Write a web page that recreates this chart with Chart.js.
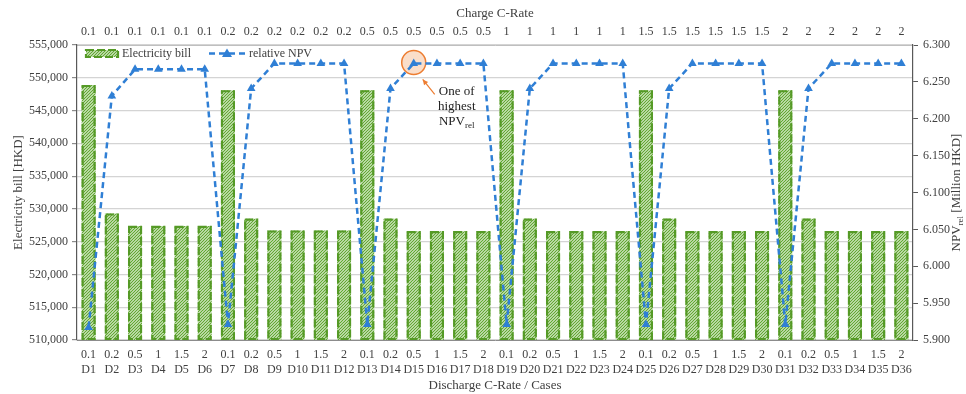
<!DOCTYPE html>
<html>
<head>
<meta charset="utf-8">
<script src="https://cdn.jsdelivr.net/npm/chart.js@4.4.1/dist/chart.umd.min.js"></script>
<style>
  html, body { margin: 0; padding: 0; background: #fff; }
  #wrap { width: 966px; height: 394px; }
</style>
</head>
<body>
<div id="wrap"><canvas id="chart" width="966" height="394"></canvas></div>
<script>
const dischargeRates = ['0.1', '0.2', '0.5', '1', '1.5', '2', '0.1', '0.2', '0.5', '1', '1.5', '2',
  '0.1', '0.2', '0.5', '1', '1.5', '2', '0.1', '0.2', '0.5', '1', '1.5', '2',
  '0.1', '0.2', '0.5', '1', '1.5', '2', '0.1', '0.2', '0.5', '1', '1.5', '2'];
const cases = ['D1', 'D2', 'D3', 'D4', 'D5', 'D6', 'D7', 'D8', 'D9', 'D10', 'D11', 'D12',
  'D13', 'D14', 'D15', 'D16', 'D17', 'D18', 'D19', 'D20', 'D21', 'D22', 'D23', 'D24',
  'D25', 'D26', 'D27', 'D28', 'D29', 'D30', 'D31', 'D32', 'D33', 'D34', 'D35', 'D36'];
const chargeRates = ['0.1', '0.1', '0.1', '0.1', '0.1', '0.1', '0.2', '0.2', '0.2', '0.2', '0.2', '0.2',
  '0.5', '0.5', '0.5', '0.5', '0.5', '0.5', '1', '1', '1', '1', '1', '1',
  '1.5', '1.5', '1.5', '1.5', '1.5', '1.5', '2', '2', '2', '2', '2', '2'];

const electricityBill = [
  548900, 529300, 527400, 527400, 527400, 527400,
  548100, 528500, 526700, 526700, 526700, 526700,
  548100, 528500, 526600, 526600, 526600, 526600,
  548100, 528500, 526600, 526600, 526600, 526600,
  548100, 528500, 526600, 526600, 526600, 526600,
  548100, 528500, 526600, 526600, 526600, 526600
];
const relativeNPV = [
  5.917, 6.231, 6.267, 6.267, 6.267, 6.267,
  5.921, 6.241, 6.275, 6.275, 6.275, 6.275,
  5.921, 6.241, 6.275, 6.275, 6.275, 6.275,
  5.921, 6.241, 6.275, 6.275, 6.275, 6.275,
  5.921, 6.241, 6.275, 6.275, 6.275, 6.275,
  5.921, 6.241, 6.275, 6.275, 6.275, 6.275
];
const highlightIndex = 14;

const FONT = "'Liberation Serif', 'Times New Roman', serif";
const TEXT = '#404040';
const GREEN_LINE = '#559a26';
const GREEN_HATCH = '#62a832';
const BLUE = '#2f7fd5';

function makeHatch() {
  const c = document.createElement('canvas');
  c.width = 3; c.height = 3;
  const g = c.getContext('2d');
  g.fillStyle = '#fff';
  g.fillRect(0, 0, 3, 3);
  g.strokeStyle = GREEN_HATCH;
  g.lineWidth = 1.3;
  g.beginPath();
  g.moveTo(0, 3); g.lineTo(3, 0);
  g.moveTo(-1, 1); g.lineTo(1, -1);
  g.moveTo(2, 4); g.lineTo(4, 2);
  g.stroke();
  return g.createPattern(c, 'repeat');
}
const hatch = makeHatch();

function dashedRect(ctx, x, y, w, h) {
  ctx.save();
  ctx.strokeStyle = GREEN_LINE;
  ctx.lineWidth = 2.2;
  ctx.setLineDash([8, 3]);
  ctx.strokeRect(x, y, w, h);
  ctx.restore();
}

const barOutline = {
  id: 'barOutline',
  afterDatasetDraw(chart, args) {
    if (args.index !== 0) return;
    const ctx = chart.ctx;
    const bottom = chart.chartArea.bottom;
    args.meta.data.forEach(bar => {
      const w = bar.width;
      const base = Math.min(bar.base, bottom);
      dashedRect(ctx, bar.x - w / 2 + 1, bar.y + 1, w - 2, base - bar.y - 2);
    });
  }
};

const highlight = {
  id: 'highlight',
  beforeDatasetsDraw(chart) {
    const p = chart.getDatasetMeta(1).data[highlightIndex];
    const ctx = chart.ctx;
    ctx.save();
    ctx.beginPath();
    ctx.arc(p.x, p.y - 1, 12, 0, Math.PI * 2);
    ctx.fillStyle = 'rgba(250, 218, 196, 0.9)';
    ctx.fill();
    ctx.lineWidth = 1.5;
    ctx.strokeStyle = '#ed7d31';
    ctx.stroke();
    ctx.restore();
  },
  afterDraw(chart) {
    const p = chart.getDatasetMeta(1).data[highlightIndex];
    const ctx = chart.ctx;
    ctx.save();
    // arrow
    const x1 = p.x + 21, y1 = p.y + 31, x2 = p.x + 9, y2 = p.y + 16;
    ctx.strokeStyle = '#ed7d31';
    ctx.fillStyle = '#ed7d31';
    ctx.lineWidth = 1.2;
    ctx.beginPath();
    ctx.moveTo(x1, y1); ctx.lineTo(x2, y2);
    ctx.stroke();
    const a = Math.atan2(y2 - y1, x2 - x1);
    ctx.beginPath();
    ctx.moveTo(x2, y2);
    ctx.lineTo(x2 - 6 * Math.cos(a - 0.45), y2 - 6 * Math.sin(a - 0.45));
    ctx.lineTo(x2 - 6 * Math.cos(a + 0.45), y2 - 6 * Math.sin(a + 0.45));
    ctx.closePath();
    ctx.fill();
    // text
    ctx.fillStyle = '#222';
    ctx.font = '13px ' + FONT;
    ctx.textAlign = 'center';
    ctx.textBaseline = 'middle';
    const tx = p.x + 43;
    ctx.fillText('One of', tx, p.y + 28);
    ctx.fillText('highest', tx, p.y + 43);
    ctx.textAlign = 'left';
    const w1 = ctx.measureText('NPV').width;
    ctx.font = '9px ' + FONT;
    const w2 = ctx.measureText('rel').width;
    const sx = tx - (w1 + w2) / 2;
    ctx.font = '13px ' + FONT;
    ctx.fillText('NPV', sx, p.y + 58);
    ctx.font = '9px ' + FONT;
    ctx.fillText('rel', sx + w1, p.y + 62);
    ctx.restore();
  }
};

const legendAndTitles = {
  id: 'legendAndTitles',
  afterDraw(chart) {
    const ctx = chart.ctx;
    const area = chart.chartArea;
    ctx.save();
    // legend: bars
    const lx = area.left + 9, ly = area.top + 5;
    ctx.fillStyle = hatch;
    ctx.fillRect(lx, ly, 32, 7);
    dashedRect(ctx, lx, ly, 32, 7);
    ctx.fillStyle = TEXT;
    ctx.font = '12px ' + FONT;
    ctx.textBaseline = 'middle';
    ctx.fillText('Electricity bill', lx + 36, ly + 3.5);
    // legend: line
    const mx = lx + 123;
    ctx.strokeStyle = BLUE;
    ctx.lineWidth = 2.5;
    ctx.setLineDash([6, 4]);
    ctx.beginPath();
    ctx.moveTo(mx, ly + 3.5); ctx.lineTo(mx + 36, ly + 3.5);
    ctx.stroke();
    ctx.setLineDash([]);
    ctx.fillStyle = BLUE;
    ctx.beginPath();
    ctx.moveTo(mx + 18, ly - 1.5);
    ctx.lineTo(mx + 23, ly + 7);
    ctx.lineTo(mx + 13, ly + 7);
    ctx.closePath();
    ctx.fill();
    ctx.fillStyle = TEXT;
    ctx.fillText('relative NPV', mx + 40, ly + 3.5);

    // right axis title with subscript
    ctx.translate(957, (area.top + area.bottom) / 2);
    ctx.rotate(-Math.PI / 2);
    ctx.font = '13px ' + FONT;
    const a = ctx.measureText('NPV').width;
    const c = ctx.measureText(' [Million HKD]').width;
    ctx.font = '9px ' + FONT;
    const b = ctx.measureText('rel').width;
    let x = -(a + b + c) / 2;
    ctx.fillStyle = TEXT;
    ctx.textAlign = 'left';
    ctx.font = '13px ' + FONT;
    ctx.fillText('NPV', x, 0);
    ctx.font = '9px ' + FONT;
    ctx.fillText('rel', x + a, 4);
    ctx.font = '13px ' + FONT;
    ctx.fillText(' [Million HKD]', x + a + b, 0);
    ctx.restore();
  }
};

const bottomLabels = dischargeRates.map((r, i) => [r, cases[i]]);

new Chart(document.getElementById('chart'), {
  data: {
    labels: bottomLabels,
    datasets: [
      {
        type: 'bar',
        label: 'Electricity bill',
        data: electricityBill,
        yAxisID: 'y',
        backgroundColor: hatch,
        borderWidth: 0,
        barPercentage: 0.6,
        categoryPercentage: 1,
        order: 2
      },
      {
        type: 'line',
        label: 'relative NPV',
        data: relativeNPV,
        yAxisID: 'y1',
        borderColor: BLUE,
        backgroundColor: BLUE,
        borderWidth: 2.5,
        borderDash: [6, 4],
        pointStyle: 'triangle',
        pointRadius: 5,
        pointBorderWidth: 0,
        tension: 0,
        order: 1
      }
    ]
  },
  options: {
    responsive: false,
    animation: false,
    layout: { padding: 0 },
    plugins: {
      legend: { display: false },
      tooltip: { enabled: false }
    },
    scales: {
      x: {
        position: 'bottom',
        offset: true,
        grid: { display: false, drawTicks: false },
        border: { display: true, color: '#8c8c8c', width: 1 },
        ticks: {
          color: TEXT, font: { family: FONT, size: 12, lineHeight: 1.25 },
          padding: 7, maxRotation: 0, autoSkip: false
        },
        title: {
          display: true, text: 'Discharge C-Rate / Cases', color: TEXT,
          font: { family: FONT, size: 13 }, padding: { top: 0, bottom: 1 }
        },
        afterFit(s) { s.height = 54; }
      },
      x2: {
        type: 'category',
        position: 'top',
        labels: chargeRates,
        offset: true,
        grid: { display: false, drawTicks: false },
        border: { display: true, color: '#bfbfbf', width: 1 },
        ticks: {
          color: TEXT, font: { family: FONT, size: 12 },
          padding: 6, maxRotation: 0, autoSkip: false
        },
        title: {
          display: true, text: 'Charge C-Rate', color: TEXT,
          font: { family: FONT, size: 13 }, padding: { top: 6, bottom: 0 }
        },
        afterFit(s) { s.height = 45; }
      },
      y: {
        position: 'left',
        min: 510000,
        max: 555000,
        grid: { color: '#d4d4d4', lineWidth: 1.2, tickLength: 5, tickColor: '#8c8c8c' },
        border: { display: true, color: '#595959', width: 1.2 },
        ticks: {
          stepSize: 5000, color: TEXT, font: { family: FONT, size: 12 }, padding: 4,
          callback: v => v.toLocaleString('en-US')
        },
        title: {
          display: true, text: 'Electricity bill [HKD]', color: TEXT,
          font: { family: FONT, size: 13 }, padding: { top: 11, bottom: 0 }
        },
        afterFit(s) { s.width = 77; }
      },
      y1: {
        position: 'right',
        min: 5.9,
        max: 6.3,
        grid: { drawOnChartArea: false, tickLength: 5, tickColor: '#595959' },
        border: { display: true, color: '#595959', width: 1.2 },
        ticks: {
          stepSize: 0.05, color: TEXT, font: { family: FONT, size: 12 }, padding: 5,
          callback: v => v.toFixed(3)
        },
        afterFit(s) { s.width = 53; }
      }
    }
  },
  plugins: [barOutline, highlight, legendAndTitles]
});
</script>
</body>
</html>
